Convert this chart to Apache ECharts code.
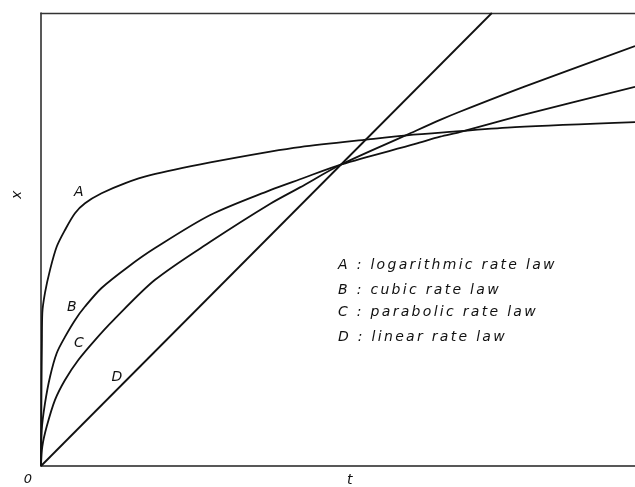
<!DOCTYPE html>
<html>
<head>
<meta charset="utf-8">
<script src="https://cdn.jsdelivr.net/npm/echarts@6/dist/echarts.min.js"></script>
<style>
html,body{margin:0;padding:0;background:#fff;}
#chart{width:635px;height:487px;}
</style>
</head>
<body>
<div id="chart"></div>
<script>
// time t (0..100 arbitrary units), thickness x (0..100 arbitrary units)
const curveA_log = [
  [0,0],[0.03,6],[0.08,17],[0.15,27],[0.22,33.8],[0.67,38.2],[1.52,43.3],[2.64,48.4],
  [4.04,52.1],[5.72,55.8],[7.41,58.0],[10.2,60.2],[14.1,62.4],[18.4,64.2],[28.5,67.0],
  [38.6,69.4],[43.6,70.4],[55.1,72.1],[61.6,73.0],[69.4,73.8],[79.8,74.8],[100,75.9]
];
const curveB_cubic = [
  [0,0],[0.12,7.9],[0.67,13.8],[1.52,19.7],[2.64,24.9],[4.04,28.5],[5.72,32.2],[7.41,35.2],
  [10.2,39.3],[14.7,44.0],[19.2,48.1],[28.5,55.4],[38.6,60.9],[43.6,63.3],[50.6,66.6],
  [63.0,71.1],[67.2,72.7],[70.5,73.7],[81.5,77.6],[100,83.7]
];
const curveC_parabolic = [
  [0,0],[0.22,4.3],[0.96,8.7],[2.36,14.6],[4.04,19.0],[6.28,23.4],[9.09,27.8],[12.2,32.2],
  [19.2,41.1],[28.5,49.5],[38.6,57.9],[43.6,61.5],[50.6,66.6],[61.6,73.1],[67.2,76.4],
  [70.5,78.2],[81.5,83.8],[100,92.7]
];
const curveD_linear = [[0,0],[75.9,100]];
const curveLetters = ['A','B','C','D'];
const legendLines = [
  'A : logarithmic rate law',
  'B : cubic rate law',
  'C : parabolic rate law',
  'D : linear rate law'
];
const originLabel = '0';
const tName = 't';
const xName = 'x';

const ink = '#111';
const font = 'DejaVu Sans';
function lineSeries(name, data){
  return {
    name: name, type: 'line', data: data, showSymbol: false, symbol: 'none',
    smooth: 0.3, silent: true, animation: false,
    lineStyle: {color: ink, width: 1.8}, clip: true
  };
}
const labelPos = [[80,192],[73,307],[80,343],[118,377]];
const legendY = [265,290,312,337];
const graphics = [];
curveLetters.forEach((c,i)=>{
  graphics.push({type:'text', x: labelPos[i][0], y: labelPos[i][1],
    style:{text:c, fill:ink, font:'italic 14px "'+font+'"', align:'center', verticalAlign:'middle'}});
});
legendLines.forEach((s,i)=>{
  graphics.push({type:'text', x: 338, y: legendY[i],
    style:{text:s, fill:ink, font:'italic 14px "'+font+'"', align:'left', verticalAlign:'middle'}});
});
graphics.push({type:'text', x:29, y:480, style:{text:originLabel, fill:ink, font:'italic 13px "'+font+'"', align:'center', verticalAlign:'middle'}});
graphics.push({type:'text', x:17, y:196, rotation:-Math.PI/2, style:{text:xName, fill:ink, font:'italic 14px "'+font+'"', align:'center', verticalAlign:'middle'}});

const option = {
  backgroundColor: '#fff',
  animation: false,
  grid: {left: 41, right: 0, top: 13, bottom: 21, containLabel: false, outerBoundsMode: 'none'},
  xAxis: [
    {type:'value', min:0, max:100, position:'bottom',
     name: tName, nameLocation:'middle', nameGap: 7,
     nameTextStyle:{fontFamily:font, fontStyle:'italic', fontSize:14, color:ink, padding:[0,0,0,26]},
     axisLine:{show:true, onZero:false, lineStyle:{color:'#222', width:1.5}},
     axisTick:{show:false}, axisLabel:{show:false}, splitLine:{show:false}},
    {type:'value', min:0, max:100, position:'top',
     axisLine:{show:true, onZero:false, lineStyle:{color:'#333', width:1.3}},
     axisTick:{show:false}, axisLabel:{show:false}, splitLine:{show:false}}
  ],
  yAxis: {type:'value', min:0, max:100,
     axisLine:{show:true, onZero:false, lineStyle:{color:'#222', width:1.5}},
     axisTick:{show:false}, axisLabel:{show:false}, splitLine:{show:false}},
  series: [
    lineSeries('A', curveA_log),
    lineSeries('B', curveB_cubic),
    lineSeries('C', curveC_parabolic),
    lineSeries('D', curveD_linear)
  ],
  graphic: graphics
};
const dom = document.getElementById('chart');
const chart = echarts.init(dom, null, {renderer:'canvas'});
chart.setOption(option);
let spaced = false;
function applySpacing(){
  if (spaced) return;
  const cv = dom.querySelector('canvas');
  if (!cv) return;
  const ctx = cv.getContext('2d');
  if ('letterSpacing' in ctx) {
    spaced = true;
    ctx.letterSpacing = '2.3px';
    chart.getZr().painter.refresh(true);
  }
}
chart.on('finished', applySpacing);
setTimeout(applySpacing, 50);
</script>
</body>
</html>
